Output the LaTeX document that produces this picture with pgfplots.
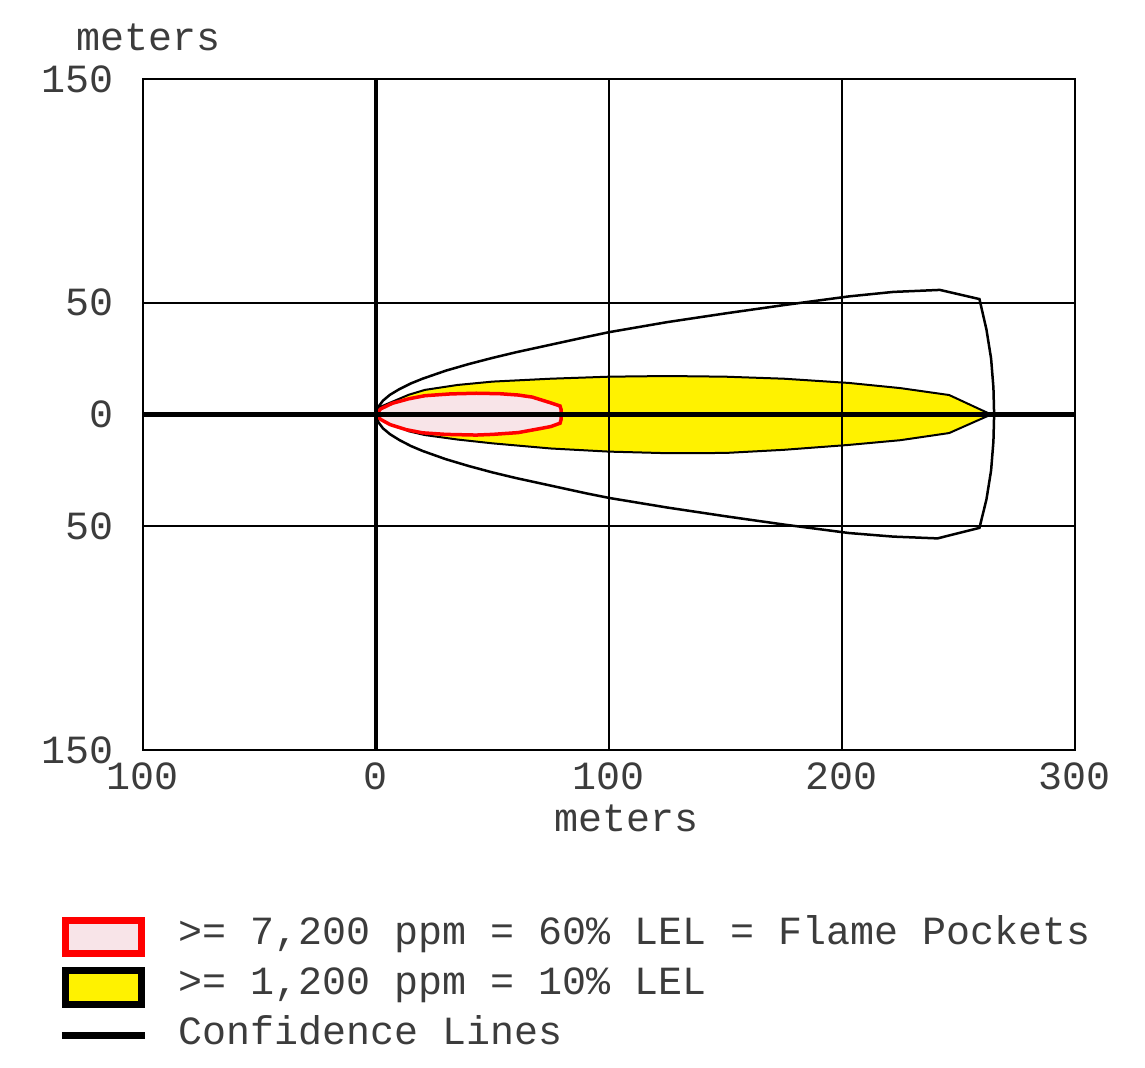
\documentclass[border=0pt]{standalone}
\usepackage{fontspec}
\setmainfont{Liberation Mono}
\usepackage{pgfplots}
\pgfplotsset{compat=1.18}
\definecolor{flamefill}{RGB}{248,228,232}
\definecolor{txt}{RGB}{60,60,60}

\begin{document}
\begin{tikzpicture}[font=\fontsize{12}{14}\selectfont]
\begin{axis}[
  name=ax, at={(0,0)}, anchor=south west,
  scale only axis, width=279.6pt, height=201.3pt,
  xmin=-100, xmax=300, ymin=-150, ymax=150,
  xtick={-100,0,100,200,300}, xticklabels={100,0,100,200,300},
  ytick={-150,-50,0,50,150}, yticklabels={150,50,0,50,150},
  major tick length=0pt,
  grid=major, major grid style={black, line width=0.6pt},
  axis line style={black, line width=0.6pt},
  axis on top,
  extra x ticks={0}, extra y ticks={0},
  extra x tick labels={}, extra y tick labels={},
  extra tick style={grid=major, major grid style={black, line width=1.45pt}},
  xticklabel style={anchor=base, yshift=-12pt, inner sep=0pt, text=txt},
  yticklabel style={anchor=east, xshift=-8.7pt, inner sep=0pt, text=txt},
  /pgf/number format/assume math mode=true,
  xlabel={meters}, ylabel={meters},
  xlabel style={at={(axis description cs:0.5193,-0.1222)}, anchor=base, inner sep=0pt, text=txt},
  ylabel style={at={(axis description cs:0.0054,1.0432)}, anchor=base, rotate=-90, inner sep=0pt, text=txt},
]
% confidence lines
\addplot[black, line width=0.75pt] coordinates {
  (0,0) (1,3.4) (3,6.2) (6,8.8) (10,11.3) (15,13.9) (20,16) (30,19.6) (40,22.6)
  (50,25.3) (60,27.8) (75,31.2) (90,34.6) (100,36.8) (125,41.3) (150,45.2)
  (175,48.9) (203,52.8) (222,54.8) (242,55.7) (259,51.6)
  (262,38) (264,25) (265,12) (265.3,0) (265,-12) (264,-25) (262,-38) (259,-50.7)
  (241,-55.4) (222,-54.6) (203,-53) (175,-49.2) (150,-45.5) (125,-41.6) (100,-37.3)
  (90,-35.2) (75,-31.8) (60,-28.4) (50,-25.9) (40,-23.1) (30,-20) (20,-16.3)
  (15,-14.1) (10,-11.4) (6,-8.8) (3,-6.2) (1,-3.4) (0,0)
};
% 10% LEL
\addplot[draw=black, line width=0.6pt, fill=yellow] coordinates {
  (0,0) (2,3.5) (7,5.7) (14,8.8) (21,11) (35,13.2) (50,14.7) (75,16) (100,16.9)
  (125,17.2) (150,16.9) (175,16) (203,14.1) (225,11.8) (246,8.7) (264,0)
  (246,-8.3) (225,-11.5) (203,-13.6) (175,-15.8) (150,-17.2) (125,-17.3) (100,-16.6)
  (75,-15.2) (50,-12.9) (35,-11.2) (21,-9.2) (14,-7.5) (7,-3.9) (2,-2) (0,0)
} -- cycle;
% 60% LEL flame pockets
\addplot[draw=red, line width=1.05pt, fill=flamefill] coordinates {
  (0,0) (2,2.5) (7,5) (14,7) (21,8.4) (32,9.2) (43,9.5) (53,9.3) (61,8.7) (67,7.8)
  (71,6.5) (75,5.2) (79,3.8) (79.5,2) (79.5,-2) (79,-3.9) (75,-5.4) (71,-6.2)
  (61,-8.1) (50,-8.9) (43,-9.2) (30,-8.9) (20,-8.2) (13,-6.8) (6,-4.5) (2,-2.2) (0,0)
} -- cycle;
\end{axis}

% legend
\draw[red, line width=2.1pt, fill=flamefill] (-23.25pt,-51.15pt) rectangle (-0.45pt,-61.05pt);
\draw[black, line width=2.1pt, fill=yellow] (-23.25pt,-66.15pt) rectangle (-0.45pt,-76.35pt);
\draw[black, line width=2.1pt] (-24.3pt,-85.8pt) -- (0.6pt,-85.8pt);
\node[anchor=base west, inner sep=0pt, text=txt] at (10.5pt,-58.5pt) {>= 7,200 ppm = 60\% LEL = Flame Pockets};
\node[anchor=base west, inner sep=0pt, text=txt] at (10.5pt,-73.5pt) {>= 1,200 ppm = 10\% LEL};
\node[anchor=base west, inner sep=0pt, text=txt] at (10.5pt,-88.5pt) {Confidence Lines};

\pgfresetboundingbox
\useasboundingbox (-42.9pt,-95.4pt) rectangle (300.6pt,225pt);
\end{tikzpicture}
\end{document}
